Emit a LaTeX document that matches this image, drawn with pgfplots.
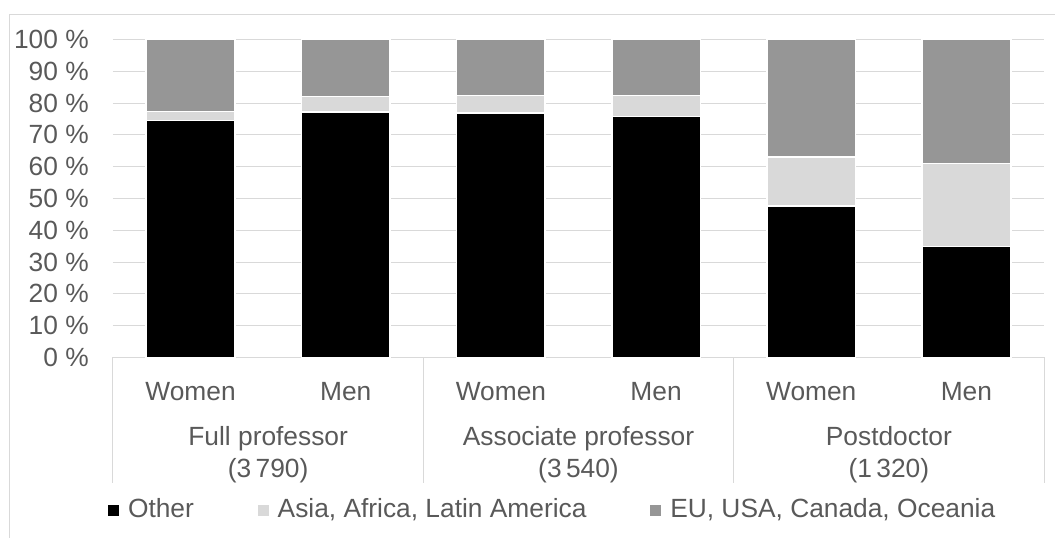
\documentclass[border=0pt]{standalone}
\usepackage{pgfplots}
\pgfplotsset{compat=1.18}
\usepackage{pgfplotstable}
\usepackage{fontspec}
\setmainfont{Liberation Sans}
\definecolor{txt}{HTML}{595959}
\definecolor{grd}{HTML}{D9D9D9}
\definecolor{asia}{HTML}{D9D9D9}
\definecolor{eu}{HTML}{969696}

\pgfplotstableread{
x other asia eu
0 74.5 2.8 22.7
1 77.2 4.9 17.9
2 76.9 5.5 17.6
3 75.7 6.6 17.7
4 47.7 15.4 36.9
5 34.9 26.1 39.0
}\data

\newcommand\lblfont{\fontsize{19.75}{24}\selectfont}
\begin{document}
\lblfont
\begin{tikzpicture}
\begin{axis}[
  at={(0,0)}, anchor=south west,
  scale only axis, width=698.25pt, height=238.5pt,
  xmin=-0.5, xmax=5.5, ymin=0, ymax=100,
  ybar stacked, bar width=0.5714,
  axis line style={draw=none},
  major tick length=0pt,
  ytick={0,10,...,100},
  yticklabel={\pgfmathprintnumber{\tick}~\%},
  /pgf/number format/assume math mode=true,
  every tick label/.append style={text=txt, font=\lblfont},
  yticklabel style={anchor=east, inner sep=0pt, xshift=-18pt},
  xtick={0,...,5},
  xticklabels={Women,Men,Women,Men,Women,Men},
  xticklabel style={anchor=base, inner sep=0pt, yshift=-32pt},
  ymajorgrids, grid style={grd, line width=0.75pt},
  clip=false,
  legend columns=3,
  legend cell align=left,
  legend style={at={(-0.0054,-0.481)}, anchor=west, draw=none, fill=none, inner sep=0pt,
    font=\lblfont,
    nodes={inner sep=0pt, text=txt},
    /tikz/every even column/.append style={column sep=48pt}},
  legend image code/.code={\fill[#1,draw=none] (0pt,-4.125pt) rectangle (8.25pt,4.125pt); \path (14.25pt,0pt);},
  every axis plot/.append style={draw=white, line width=1.2pt},
]
\addplot[fill=black] table[x=x, y=other] {\data};
\addplot[fill=asia] table[x=x, y=asia] {\data};
\addplot[fill=eu] table[x=x, y=eu] {\data};
\legend{Other, {Asia, Africa, Latin America}, {EU, USA, Canada, Oceania}}
\foreach \s in {-0.5,1.5,3.5,5.5}{
  \edef\tmp{\noexpand\draw[grd, line width=0.75pt] (axis cs:\s,0) -- (axis cs:\s,-39.58);}\tmp
}
\node[anchor=base, align=center, text=txt, font=\lblfont] at (axis cs:0.5,-37.61) {Full professor\\(3\,790)};
\node[anchor=base, align=center, text=txt, font=\lblfont] at (axis cs:2.5,-37.61) {Associate professor\\(3\,540)};
\node[anchor=base, align=center, text=txt, font=\lblfont] at (axis cs:4.5,-37.61) {Postdoctor\\(1\,320)};
\end{axis}
\draw[grd, line width=0.75pt] (-77.25pt,-140pt) -- (-77.25pt,257.55pt) -- (712pt,257.55pt);
\pgfresetboundingbox
\useasboundingbox (-84.75pt,-134.7pt) rectangle (706.5pt,268.05pt);
\end{tikzpicture}
\end{document}
